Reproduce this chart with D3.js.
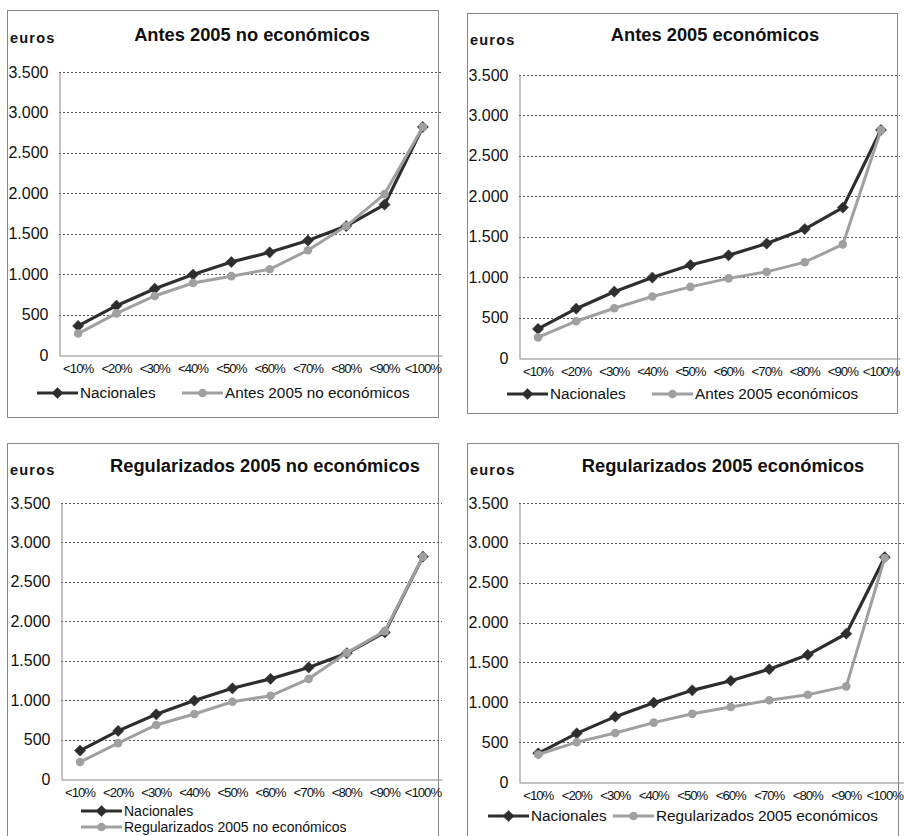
<!DOCTYPE html>
<html><head><meta charset="utf-8">
<script src="https://cdn.jsdelivr.net/npm/d3@7"></script>
<style>body{margin:0;background:#fff}svg{display:block}</style>
</head><body><svg id="c" width="904" height="836"></svg>
<script>
const categories = ["<10%","<20%","<30%","<40%","<50%","<60%","<70%","<80%","<90%","<100%"];
const yTicks = [0,500,1000,1500,2000,2500,3000,3500];
const nacionales = [360,610,820,995,1150,1270,1415,1595,1860,2820];
const antesNoEco = [265,515,730,890,975,1060,1295,1595,1990,2820];
const antesEco = [255,455,615,760,880,985,1065,1185,1405,2820];
const regNoEco = [215,455,685,825,980,1055,1270,1600,1875,2820];
const regEco = [345,500,615,745,855,940,1025,1095,1200,2810];

const panels = [
  {title:"Antes 2005 no económicos", data:antesNoEco, box:[7,10,431,407], plot:[59,442,72,355], titleX:252, titleY:41, eurosY:43, legend:{type:"row", y:393, x1:37, x2:182}},
  {title:"Antes 2005 económicos", data:antesEco, box:[467,13,430,400], plot:[519,900,75,358], titleX:715, titleY:41, eurosY:45, legend:{type:"row", y:394, x1:507, x2:652}},
  {title:"Regularizados 2005 no económicos", data:regNoEco, box:[7,443,431,400], plot:[61,442,503,779], titleX:265, titleY:472, eurosY:475, legend:{type:"col", y:811, x1:81}},
  {title:"Regularizados 2005 económicos", data:regEco, box:[467,443,431,400], plot:[519,904,503,782], titleX:723, titleY:472, eurosY:475, legend:{type:"row", y:816, x1:488, x2:613}}
];

const svg = d3.select("#c");
const dark = "#2e2e2e", gray = "#a0a0a0";
const font = "'Liberation Sans', Arial, sans-serif";
const fmt = v => d3.format(",")(v).replace(/,/g,".");

function diamond(g, x, y, fill){
  g.append("path").attr("d", d3.symbol(d3.symbolDiamond2, 80)())
   .attr("transform",`translate(${x},${y})`).attr("fill",fill).attr("stroke",fill).attr("stroke-width",0.5);
}
function circ(g, x, y){
  g.append("circle").attr("cx",x).attr("cy",y).attr("r",4.3).attr("fill",gray);
}

panels.forEach(p=>{
  const g = svg.append("g");
  g.append("rect").attr("x",p.box[0]+0.5).attr("y",p.box[1]+0.5).attr("width",p.box[2]).attr("height",p.box[3])
   .attr("fill","none").attr("stroke","#888").attr("stroke-width",1);
  const [x0,x1,yTop,yBot] = p.plot;
  const x = d3.scaleBand().domain(categories).range([x0,x1]);
  const y = d3.scaleLinear().domain([0,3500]).range([yBot,yTop]);
  // gridlines
  g.selectAll(".grid").data(yTicks.filter(d=>d>0)).join("line")
   .attr("x1",x0).attr("x2",x1).attr("y1",d=>Math.round(y(d))+0.5).attr("y2",d=>Math.round(y(d))+0.5)
   .attr("stroke","#555").attr("stroke-width",1).attr("stroke-dasharray","2,2");
  // axes
  const ya = g.append("g").attr("transform",`translate(${x0+0.5},0)`)
   .call(d3.axisLeft(y).tickValues(yTicks).tickSize(0).tickPadding(11).tickFormat(fmt));
  ya.select(".domain").attr("stroke","#888");
  ya.selectAll("text").attr("font-family",font).attr("font-size",16).attr("fill","#111");
  const xa = g.append("g").attr("transform",`translate(0,${Math.round(yBot)+0.5})`)
   .call(d3.axisBottom(x).tickSize(0).tickPadding(8));
  xa.select(".domain").attr("stroke","#888");
  xa.selectAll("text").attr("font-family",font).attr("font-size",13.2).attr("letter-spacing","-1px").attr("fill","#111");
  // lines
  const line = d3.line().x((d,i)=>x(categories[i])+x.bandwidth()/2).y(d=>y(d));
  g.append("path").datum(nacionales).attr("d",line).attr("fill","none").attr("stroke",dark).attr("stroke-width",3.2);
  nacionales.forEach((v,i)=>diamond(g, x(categories[i])+x.bandwidth()/2, y(v), dark));
  g.append("path").datum(p.data).attr("d",line).attr("fill","none").attr("stroke",gray).attr("stroke-width",3);
  p.data.forEach((v,i)=>circ(g, x(categories[i])+x.bandwidth()/2, y(v)));
  // titles
  g.append("text").attr("x",p.titleX).attr("y",p.titleY).attr("text-anchor","middle")
   .attr("font-family",font).attr("font-weight","bold").attr("font-size",18.3).attr("fill","#111").text(p.title);
  g.append("text").attr("x",p.box[0]+3).attr("y",p.eurosY).attr("font-family",font).attr("font-weight","bold")
   .attr("font-size",14.5).attr("letter-spacing","1.2px").attr("fill","#111").text("euros");
  // legend
  const L = p.legend;
  function item(lx, ly, kind, label, fs){
    g.append("line").attr("x1",lx).attr("x2",lx+41).attr("y1",ly).attr("y2",ly)
     .attr("stroke",kind==="d"?dark:gray).attr("stroke-width",3);
    if(kind==="d") diamond(g, lx+20.5, ly, dark); else circ(g, lx+20.5, ly);
    g.append("text").attr("x",lx+43).attr("y",ly+5).attr("font-family",font).attr("font-size",fs)
     .attr("fill","#111").text(label);
  }
  if(L.type==="row"){
    item(L.x1, L.y, "d", "Nacionales", 15.3);
    item(L.x2, L.y, "c", p.title, 15.3);
  } else {
    item(L.x1, L.y, "d", "Nacionales", 14);
    item(L.x1, L.y+16, "c", p.title, 14);
  }
});
</script></body></html>
